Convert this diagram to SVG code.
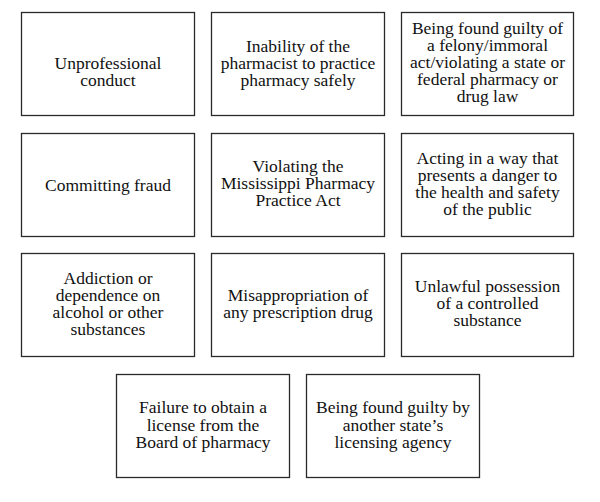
<svg xmlns="http://www.w3.org/2000/svg" width="600" height="502" viewBox="0 0 600 502">
<style>
.box{fill:#fff;stroke:#2a2a2a;stroke-width:1.3}
.t{font-family:"Liberation Serif","Times New Roman",serif;font-size:17.5px;fill:#111;text-anchor:middle}
</style>
<rect width="600" height="502" fill="#fff"/>
<g id="connectors"></g>
<g id="n1"><rect class="box" x="21.5" y="12.5" width="173" height="103"/>
<text class="t" x="108" y="69">Unprofessional</text><text class="t" x="108" y="86">conduct</text></g>
<g id="n2"><rect class="box" x="211.5" y="12.5" width="173" height="103"/>
<text class="t" x="298" y="52">Inability of the</text><text class="t" x="298" y="69">pharmacist to practice</text><text class="t" x="298" y="86">pharmacy safely</text></g>
<g id="n3"><rect class="box" x="401.5" y="12.5" width="172" height="103"/>
<text class="t" x="487.5" y="33.5">Being found guilty of</text><text class="t" x="487.5" y="50.5">a felony/immoral</text><text class="t" x="487.5" y="68">act/violating a state or</text><text class="t" x="487.5" y="85">federal pharmacy or</text><text class="t" x="487.5" y="102">drug law</text></g>
<g id="n4"><rect class="box" x="21.5" y="133.5" width="173" height="103"/>
<text class="t" x="108" y="191">Committing fraud</text></g>
<g id="n5"><rect class="box" x="211.5" y="133.5" width="173" height="103"/>
<text class="t" x="298" y="172">Violating the</text><text class="t" x="298" y="189">Mississippi Pharmacy</text><text class="t" x="298" y="206">Practice Act</text></g>
<g id="n6"><rect class="box" x="401.5" y="133.5" width="172" height="103"/>
<text class="t" x="487.5" y="163.5">Acting in a way that</text><text class="t" x="487.5" y="181">presents a danger to</text><text class="t" x="487.5" y="198">the health and safety</text><text class="t" x="487.5" y="215">of the public</text></g>
<g id="n7"><rect class="box" x="21.5" y="253.5" width="173" height="103"/>
<text class="t" x="108" y="283.5">Addiction or</text><text class="t" x="108" y="301">dependence on</text><text class="t" x="108" y="318">alcohol or other</text><text class="t" x="108" y="335">substances</text></g>
<g id="n8"><rect class="box" x="211.5" y="253.5" width="173" height="103"/>
<text class="t" x="298" y="301">Misappropriation of</text><text class="t" x="298" y="318">any prescription drug</text></g>
<g id="n9"><rect class="box" x="401.5" y="253.5" width="172" height="103"/>
<text class="t" x="487.5" y="292">Unlawful possession</text><text class="t" x="487.5" y="309">of a controlled</text><text class="t" x="487.5" y="326">substance</text></g>
<g id="n10"><rect class="box" x="116.5" y="374.5" width="173" height="103"/>
<text class="t" x="203" y="413">Failure to obtain a</text><text class="t" x="203" y="430.5">license from the</text><text class="t" x="203" y="447.5">Board of pharmacy</text></g>
<g id="n11"><rect class="box" x="306.5" y="374.5" width="173" height="103"/>
<text class="t" x="393" y="413">Being found guilty by</text><text class="t" x="393" y="430.5">another state’s</text><text class="t" x="393" y="447.5">licensing agency</text></g>
</svg>
